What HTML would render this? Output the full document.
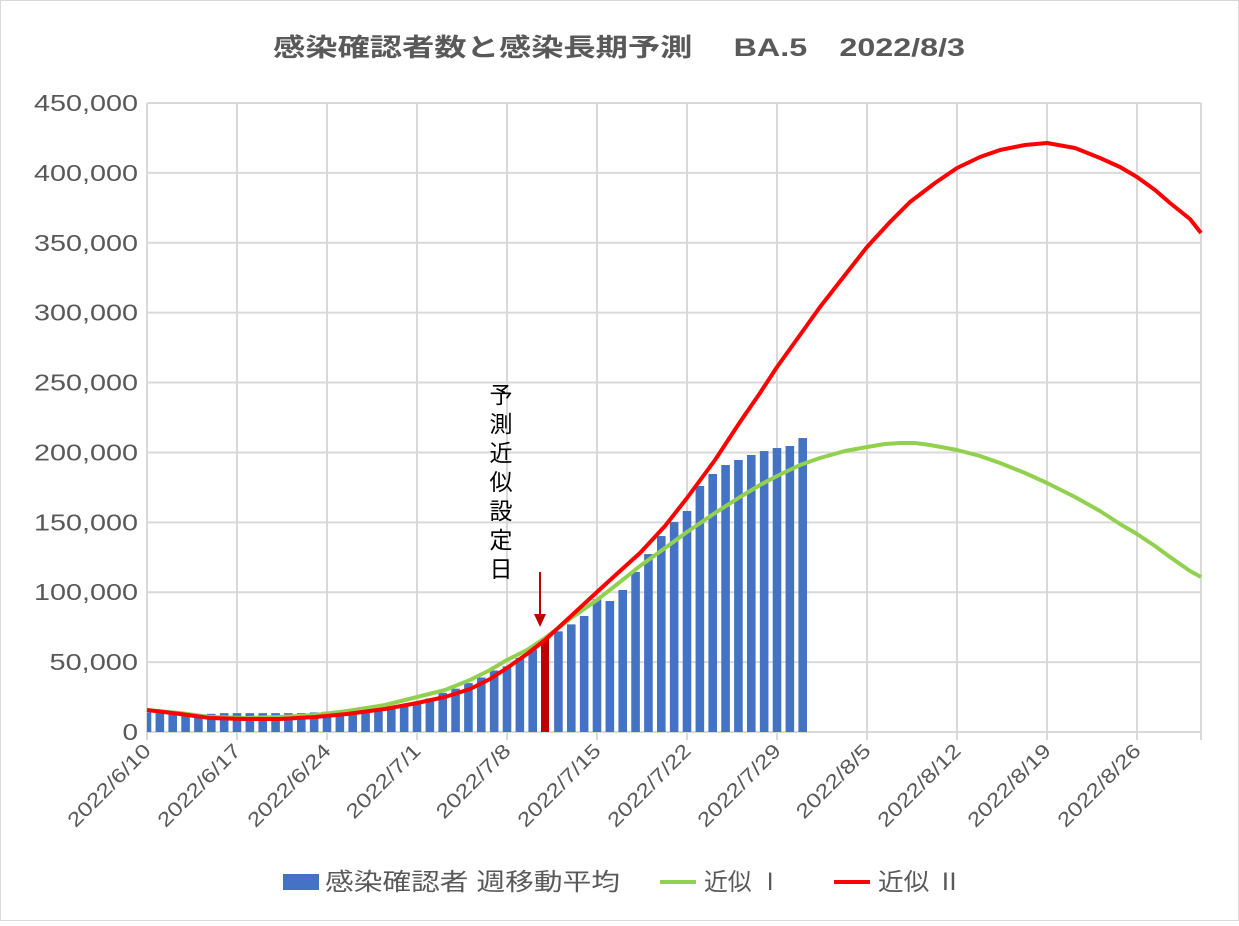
<!DOCTYPE html>
<html><head><meta charset="utf-8"><style>
body{margin:0;background:#fff}
svg text{font-family:"Liberation Sans","Noto Sans CJK JP",sans-serif;fill:#595959}
</style></head><body>
<svg width="1239" height="921" viewBox="0 0 1239 921" xmlns="http://www.w3.org/2000/svg">
<rect x="0.5" y="0.5" width="1238" height="920" fill="#fff" stroke="#d9d9d9"/>
<text x="273" y="56" font-size="25" font-weight="bold" textLength="692" lengthAdjust="spacingAndGlyphs">感染確認者数と感染長期予測　 BA.5　2022/8/3</text>
<g id="grid" stroke="#d9d9d9" stroke-width="2"></g>
<g id="ylab" font-size="23" text-anchor="end"></g>
<g id="xlab" font-size="20" text-anchor="end"></g>
<g id="bars" fill="#4472C4"></g>
<rect x="541" y="638" width="8" height="94" fill="#C00000"/>
<polyline id="g" fill="none" stroke="#92D050" stroke-width="4" stroke-linejoin="round"/>
<polyline id="r" fill="none" stroke="#FF0000" stroke-width="4" stroke-linejoin="round"/>
<line x1="540" y1="572" x2="540" y2="616" stroke="#C00000" stroke-width="2"/>
<polygon points="534,614 546,614 540,627" fill="#C00000"/>
<g font-size="23" text-anchor="middle">
<text x="501" y="403" style="fill:#000">予</text><text x="501" y="432" style="fill:#000">測</text><text x="501" y="461" style="fill:#000">近</text><text x="501" y="490" style="fill:#000">似</text><text x="501" y="519" style="fill:#000">設</text><text x="501" y="548" style="fill:#000">定</text><text x="501" y="577" style="fill:#000">日</text>
</g>
<rect x="283" y="874" width="36" height="16" fill="#4472C4"/>
<text x="325" y="890" font-size="24" textLength="295" lengthAdjust="spacingAndGlyphs">感染確認者 週移動平均</text>
<line x1="660" y1="882" x2="696" y2="882" stroke="#92D050" stroke-width="4"/>
<text x="704" y="890" font-size="24" textLength="78" lengthAdjust="spacingAndGlyphs">近似 Ⅰ</text>
<line x1="834" y1="882" x2="870" y2="882" stroke="#FF0000" stroke-width="4"/>
<text x="878" y="890" font-size="24" textLength="84" lengthAdjust="spacingAndGlyphs">近似 Ⅱ</text>
</svg>
<script>
const ns="http://www.w3.org/2000/svg";
function el(p,t,a,txt){const e=document.createElementNS(ns,t);for(const k in a)e.setAttribute(k,a[k]);if(txt!=null)e.textContent=txt;document.getElementById(p).appendChild(e);}
const y0=732,k=629/450000;
for(let i=0;i<=9;i++){const y=y0-i*50000*k;el("grid","line",{x1:147,x2:1201,y1:y,y2:y});const s=i==0?"0":(i*50000).toLocaleString("en-US");const nd=s.replace(/,/g,"").length,nc=s.length-nd;el("ylab","text",{x:138,y:y+8,textLength:nd*15.5+nc*11,lengthAdjust:"spacingAndGlyphs"},s);}
const d=90/7;
const labs=["2022/6/10","2022/6/17","2022/6/24","2022/7/1","2022/7/8","2022/7/15","2022/7/22","2022/7/29","2022/8/5","2022/8/12","2022/8/19","2022/8/26"];
for(let i=0;i<12;i++){const x=147+i*90;el("grid","line",{x1:x,x2:x,y1:103,y2:740});el("xlab","text",{x:x+5,y:752,transform:`rotate(-45 ${x+5} 752)`,textLength:labs[i].length*12,lengthAdjust:"spacingAndGlyphs"},labs[i]);}
el("grid","line",{x1:1201,x2:1201,y1:103,y2:740});
const v=[14000,13500,13000,12500,12000,13000,13500,13500,13500,13500,13500,13500,13500,14000,14500,15000,15500,16000,16500,17500,19000,21000,24000,28000,31000,35000,39000,44000,47000,53000,59000,66000,72000,77000,83000,95000,93700,101600,114500,127300,140200,150200,158100,176000,184600,191000,194600,198200,201000,203200,204600,210300];
v.forEach((val,i)=>{if(i==31)return;let c=147+i*d;let x=c-4.3,w=8.6;if(x<147){w-=147-x;x=147;}const h=val*k;el("bars","rect",{x:x,y:y0-h,width:w,height:h});});
document.getElementById("r").setAttribute("points","147,710 180,714 210,718 245,719 280,719 315,717 347,714 385,709 417,703 445,697 470,689 490,679 507,668 527,654 545,640 570,617 597,592 620,571 640,553 665,526 687,498 715,460 740,422 760,393 777,367 800,335 820,307 845,275 867,247 890,222 910,202 935,183 957,168 980,157 1000,150 1025,145 1047,143 1075,148 1100,158 1120,167 1137,177 1155,190 1170,203 1190,219 1201,233");
document.getElementById("g").setAttribute("points","147,710 180,713 210,717 245,718 280,717 315,715 347,711 385,705 417,697 445,690 470,680 490,670 507,660 527,650 545,638 570,619 597,600 620,582 640,566 665,548 687,532 715,513 740,497 760,485 777,476 800,465 820,458 845,451 867,447 885,444 900,443 915,443 930,445 957,450 980,456 1000,463 1025,473 1047,483 1075,497 1100,511 1120,524 1137,534 1155,546 1170,557 1190,571 1201,577");
</script>
</body></html>
